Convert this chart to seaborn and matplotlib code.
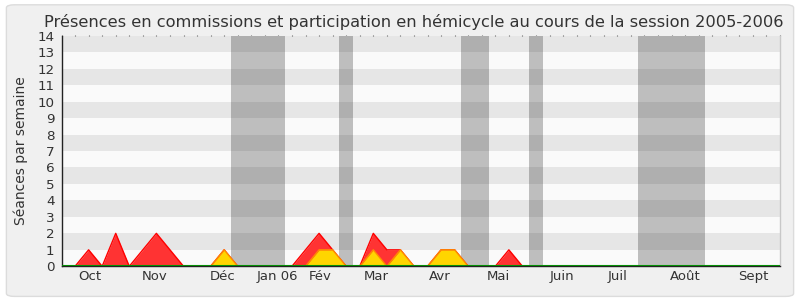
import matplotlib
matplotlib.use("Agg")
import matplotlib.pyplot as plt
import seaborn as sns
import numpy as np
import pandas as pd
from matplotlib.patches import FancyBboxPatch
from matplotlib.ticker import FixedLocator, MultipleLocator, NullLocator

# ---- data (weekly, week 0 .. 53) ----
weeks = list(range(54))
commission = [0, 0, 1, 0, 2, 0, 1, 2, 1, 0, 0, 0, 1, 0, 0, 0, 0, 0, 1, 2,
              1, 0, 0, 2, 1, 1, 0, 0, 1, 1, 0, 0, 0, 1, 0, 0, 0, 0, 0, 0,
              0, 0, 0, 0, 0, 0, 0, 0, 0, 0, 0, 0, 0, 0]
hemicycle = [0, 0, 0, 0, 0, 0, 0, 0, 0, 0, 0, 0, 1, 0, 0, 0, 0, 0, 0, 1,
             1, 0, 0, 1, 0, 1, 0, 0, 1, 1, 0, 0, 0, 0, 0, 0, 0, 0, 0, 0,
             0, 0, 0, 0, 0, 0, 0, 0, 0, 0, 0, 0, 0, 0]
questions = [0] * 54
vacances = [(12.5, 16.5), (20.5, 21.5), (29.5, 31.5), (34.5, 35.5), (42.5, 47.5)]
month_labels = ["Oct", "Nov", "Déc", "Jan 06", "Fév", "Mar", "Avr", "Mai",
                "Juin", "Juil", "Août", "Sept"]
month_pos = [2.1, 6.9, 11.9, 15.9, 19.05, 23.2, 27.9, 32.2, 36.9, 41.0, 46.0, 51.0]
title = "Présences en commissions et participation en hémicycle au cours de la session 2005-2006"
ylabel = "Séances par semaine"

df = pd.DataFrame({"week": weeks, "commission": commission,
                   "hemicycle": hemicycle, "questions": questions})

sns.set_style("white")
plt.rcParams["font.family"] = ["DejaVu Sans"]

fig = plt.figure(figsize=(8, 3), dpi=100, facecolor="white")
frame = FancyBboxPatch((0.008, 0.012), 0.984, 0.972, boxstyle="round,pad=0,rounding_size=0.01",
                       transform=fig.transFigure, facecolor="#f0f0f0", edgecolor="#dcdcdc",
                       linewidth=1, zorder=-10)
fig.patches.append(frame)

ax = fig.add_axes([61.5 / 800, 1 - 266.3 / 300, (780 - 61.5) / 800, (266.3 - 35.7) / 300])
ax.set_facecolor("#fafafa")
ax.set_xlim(0, 53)
ax.set_ylim(0, 14)

for a, b in vacances:
    ax.axvspan(a, b, color="#bebebe", lw=0, zorder=0.5)
for k in range(1, 14, 2):
    ax.axhspan(k, k + 1, color="black", alpha=0.08, lw=0, zorder=0.6)

ax.fill_between(df["week"], df["commission"], color="#ff3333", lw=0, zorder=2)
sns.lineplot(data=df, x="week", y="commission", color="#ff0000", lw=1, ax=ax, zorder=2.1)
ax.fill_between(df["week"], df["hemicycle"], color="#ffd500", lw=0, zorder=3)
sns.lineplot(data=df, x="week", y="hemicycle", color="#ff8c00", lw=1, ax=ax, zorder=3.1)
sns.lineplot(data=df, x="week", y="questions", color="#00aa00", lw=1.5, ax=ax, zorder=4)

ax.spines["top"].set_visible(False)
ax.spines["right"].set_color("#c8c8c8")
ax.spines["right"].set_linewidth(1)
ax.spines["left"].set_color("#222222")
ax.spines["bottom"].set_color("#222222")
ax.spines["left"].set_linewidth(1)
ax.spines["bottom"].set_linewidth(1)
ax.spines["bottom"].set_zorder(5)

ax.set_yticks(range(0, 15))
ax.set_yticklabels([str(i) for i in range(0, 15)], fontsize=9.7, color="#333333")
ax.tick_params(axis="y", direction="out", length=4, width=1, color="#222222", pad=1)

ax.xaxis.set_major_locator(FixedLocator(month_pos))
ax.set_xticklabels(month_labels, fontsize=9.5, color="#333333")
ax.xaxis.set_minor_locator(MultipleLocator(1))
ax.tick_params(axis="x", which="major", length=0, pad=3)
ax.tick_params(axis="x", which="minor", direction="out", length=5, width=1, color="#222222")

top = ax.secondary_xaxis("top")
top.xaxis.set_major_locator(MultipleLocator(1))
top.xaxis.set_minor_locator(NullLocator())
top.set_xticklabels([])
top.tick_params(axis="x", which="major", direction="out", length=1, width=0.8, color="#666666")
top.spines["top"].set_visible(False)

ax.set_xlabel("")
ax.set_ylabel(ylabel, fontsize=10, color="#333333", labelpad=7)
ax.set_title(title, fontsize=11.7, color="#333333", pad=6, x=0.49)

fig.savefig("out.png", dpi=100, facecolor=fig.get_facecolor())
